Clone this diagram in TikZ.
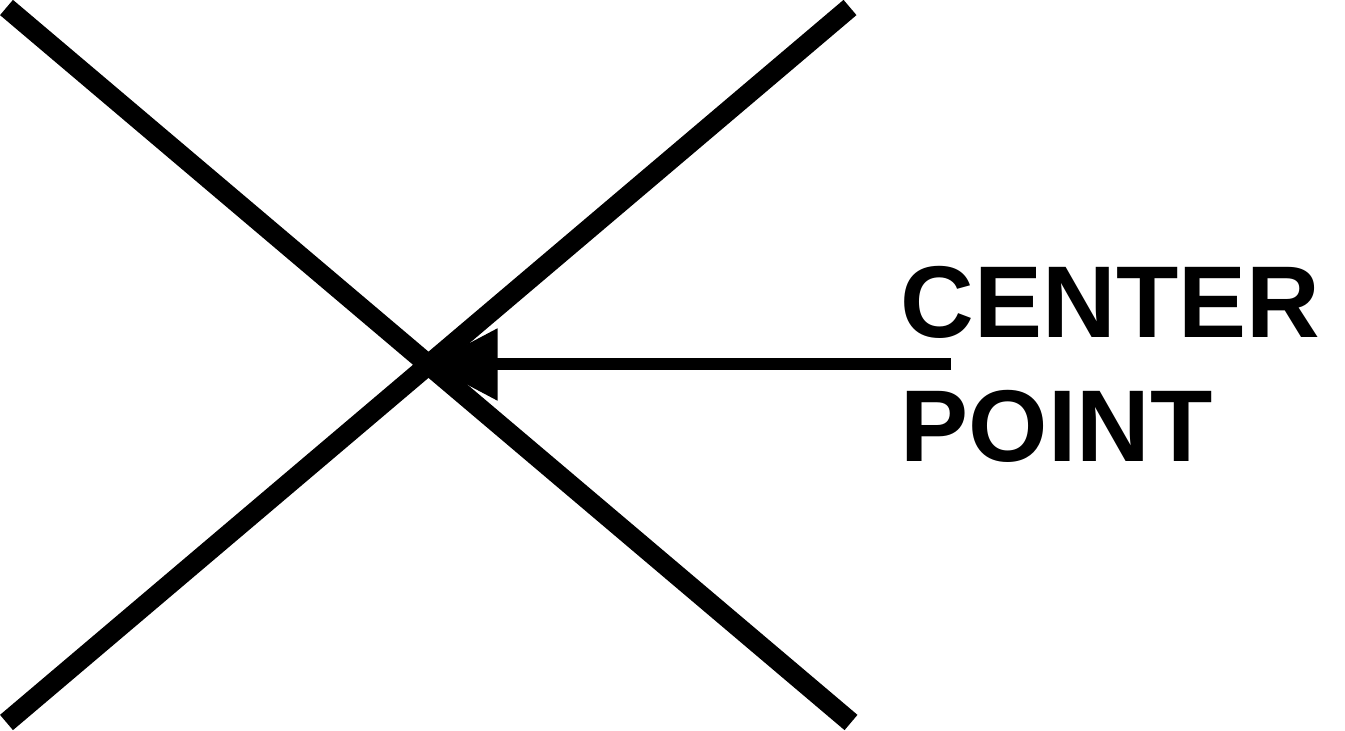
\documentclass[tikz,border=0pt]{standalone}
\usepackage{fontspec}
\setmainfont{Liberation Sans}
\usetikzlibrary{arrows.meta}
\begin{document}
\begin{tikzpicture}[x=0.5pt,y=-0.5pt,
  xline/.style={line width=10pt,line cap=butt},
  pointer/.style={line width=6pt,-{Triangle[length=34.5pt,width=34.5pt]}},
  lbl/.style={inner sep=0pt,anchor=base west,font=\fontsize{51}{62}\selectfont\bfseries}]
\useasboundingbox (0,0) rectangle (1345,731);
\coordinate (a1) at (6.5,7.5);
\coordinate (a2) at (851,722.5);
\coordinate (b1) at (850,7.5);
\coordinate (b2) at (6.5,722.5);
\coordinate (c) at (428.5,364.5);
\coordinate (s) at (951,364.5);
\draw[xline] (a1) -- (a2);
\draw[xline] (b1) -- (b2);
\draw[pointer] (s) -- (c);
\node[lbl] (t1) at (900.5,338) {CENTER};
\node[lbl] (t2) at (900.5,462) {POINT};
\end{tikzpicture}
\end{document}
